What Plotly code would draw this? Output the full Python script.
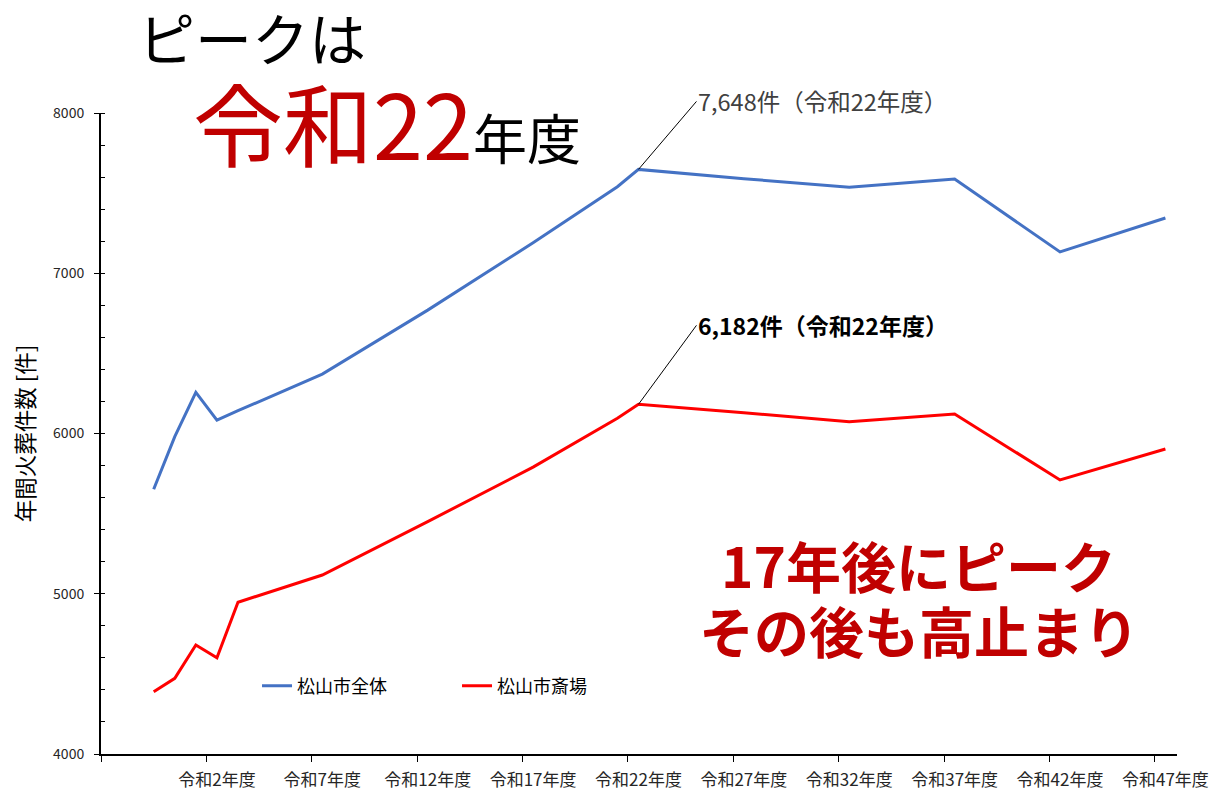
import plotly.graph_objects as go

# 令和 year index (0 = 平成30年度, -1 = 平成29年度)
years = [-1, 0, 1, 2, 3, 7, 12, 17, 21, 22, 27, 32, 37, 42, 47]
matsuyama_total = [5652, 5980, 6257, 6084, 6142, 6371, 6770, 7190, 7540, 7648, 7590, 7536, 7588, 7133, 7345]
matsuyama_saijo = [4389, 4472, 4680, 4601, 4947, 5117, 5450, 5790, 6095, 6182, 6130, 6074, 6122, 5710, 5903]

label_years = [2, 7, 12, 17, 22, 27, 32, 37, 42, 47]
label_text = [f"令和{y}年度" for y in label_years]
tick_marks = [-3.5, 1.5, 6.5, 11.5, 16.5, 21.5, 26.5, 31.5, 36.5, 41.5, 46.5]

peak_year = 22
peak_total = 7648
peak_saijo = 6182

FONT = "Noto Sans CJK JP"
DARK_RED = "#C00000"

fig = go.Figure()
fig.add_trace(go.Scatter(x=years, y=matsuyama_total, mode="lines", name="松山市全体",
                         line=dict(color="#4472C4", width=3)))
fig.add_trace(go.Scatter(x=years, y=matsuyama_saijo, mode="lines", name="松山市斎場",
                         line=dict(color="#FF0000", width=3)))

# page body has an 8px margin, so the figure is 8px smaller and margins shifted
fig.update_layout(
    width=1210, height=785,
    margin=dict(l=93, r=41, t=105, b=39),
    paper_bgcolor="white", plot_bgcolor="white",
    font=dict(family=FONT, color="#000000"),
    showlegend=True,
    legend=dict(orientation="h", x=0.145, y=0.106, xanchor="left", yanchor="middle",
                font=dict(size=18, color="#000000", family=FONT),
                entrywidth=155, entrywidthmode="pixels",
                bgcolor="rgba(0,0,0,0)"),
    xaxis=dict(range=[-3.5, 47.55], showgrid=False, zeroline=False, automargin=False,
               showline=True, linecolor="black", linewidth=2,
               tickmode="array", tickvals=label_years, ticktext=label_text,
               ticks="", tickfont=dict(size=17, color="#262626", family=FONT),
               ticklabelstandoff=10,
               minor=dict(tickmode="array", tickvals=tick_marks, ticks="outside",
                          ticklen=6, tickcolor="black", tickwidth=1)),
    yaxis=dict(range=[4000, 8000], showgrid=False, zeroline=False, automargin=False,
               showline=True, linecolor="black", linewidth=2,
               tickmode="linear", tick0=4000, dtick=1000,
               ticks="outside", ticklen=5, tickcolor="black", tickwidth=1,
               tickfont=dict(size=14, color="#262626", family=FONT),
               ticklabelstandoff=7,
               minor=dict(dtick=200, ticks="inside", ticklen=4, tickcolor="black", tickwidth=1),
               title=dict(text="年間火葬件数 [件]", font=dict(size=22.5, color="#000000", family=FONT),
                          standoff=19)),
)

# Title texts
fig.add_annotation(xref="paper", yref="paper", x=0.033, y=1.120, xanchor="left", yanchor="middle",
                   text="ピークは", showarrow=False, borderpad=0,
                   font=dict(size=57, color="#000000", family=FONT))
fig.add_annotation(xref="paper", yref="paper", x=0.085, y=0.988, xanchor="left", yanchor="middle",
                   text=f"<span style='color:{DARK_RED};font-size:90px'>令和{peak_year}</span>"
                        f"<span style='font-size:54px'>年度</span>",
                   showarrow=False, borderpad=0, font=dict(size=54, color="#000000", family=FONT))

# Peak callouts
fig.add_annotation(x=peak_year, y=peak_total, xref="x", yref="y",
                   text=f"{peak_total:,}件（令和{peak_year}年度）",
                   showarrow=True, arrowhead=0, arrowwidth=1, arrowcolor="black",
                   ax=58, ay=-68, xanchor="left", yanchor="middle",
                   font=dict(size=23.5, color="#404040", family=FONT))
fig.add_annotation(x=peak_year, y=peak_saijo, xref="x", yref="y",
                   text=f"<b>{peak_saijo:,}件（令和{peak_year}年度）</b>",
                   showarrow=True, arrowhead=0, arrowwidth=1, arrowcolor="black",
                   ax=58, ay=-79, xanchor="left", yanchor="middle",
                   font=dict(size=23, color="#000000", family=FONT))

# Message
fig.add_annotation(xref="paper", yref="paper", x=0.76, y=0.296, xanchor="center", yanchor="middle",
                   text="<b>17年後にピーク</b>", showarrow=False, borderpad=0,
                   font=dict(size=55, color=DARK_RED, family=FONT))
fig.add_annotation(xref="paper", yref="paper", x=0.76, y=0.195, xanchor="center", yanchor="middle",
                   text="<b>その後も高止まり</b>", showarrow=False, borderpad=0,
                   font=dict(size=55, color=DARK_RED, family=FONT))

fig.write_html("out.html")
